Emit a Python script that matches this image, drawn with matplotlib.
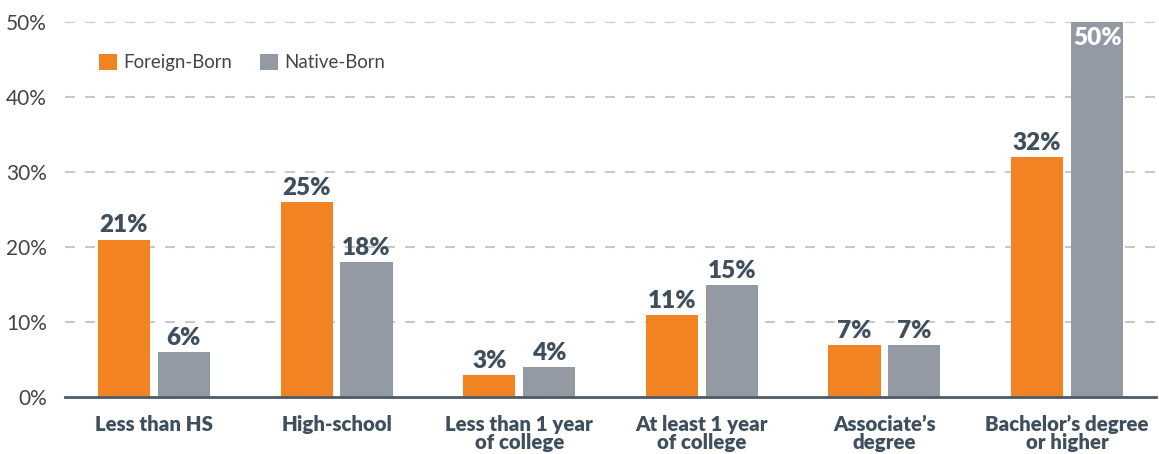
import matplotlib
matplotlib.use('Agg')
import matplotlib.pyplot as plt
import numpy as np

# Data
categories = ['Less than HS', 'High-school', 'Less than 1 year\nof college',
              'At least 1 year\nof college', 'Associate\u2019s\ndegree',
              'Bachelor\u2019s degree\nor higher']
foreign_born = [21, 26, 3, 11, 7, 32]
native_born = [6, 18, 4, 15, 7, 50]
foreign_labels = ['21%', '25%', '3%', '11%', '7%', '32%']
native_labels = ['6%', '18%', '4%', '15%', '7%', '50%']
y_ticks = [0, 10, 20, 30, 40, 50]

orange = '#f28322'
grey = '#939aa4'
dark = '#3f4f5e'

plt.rcParams['font.family'] = ['Lato', 'DejaVu Sans']

fig = plt.figure(figsize=(11.59, 4.54), dpi=100)
ax = fig.add_axes([65 / 1159, 1 - 397 / 454, (1156 - 65) / 1159, (397 - 22) / 454])

x = np.arange(len(categories))
w = 0.285
off = 0.164
ax.bar(x - off, foreign_born, w, color=orange, label='Foreign-Born', zorder=3)
ax.bar(x + off, native_born, w, color=grey, label='Native-Born', zorder=3)

# Value labels
for i in range(len(categories)):
    ax.annotate(foreign_labels[i], (x[i] - off, foreign_born[i]), xytext=(0, 3),
                textcoords='offset pixels', ha='center', va='bottom',
                fontsize=17.5, fontweight='heavy', color=dark, zorder=4)
    if native_born[i] >= 45:
        ax.annotate(native_labels[i], (x[i] + off, native_born[i]), xytext=(0, -5),
                    textcoords='offset pixels', ha='center', va='top',
                    fontsize=17.5, fontweight='heavy', color='white', zorder=4)
    else:
        ax.annotate(native_labels[i], (x[i] + off, native_born[i]), xytext=(0, 3),
                    textcoords='offset pixels', ha='center', va='bottom',
                    fontsize=17.5, fontweight='heavy', color=dark, zorder=4)

ax.set_xlim(-0.487, 5.487)
ax.set_ylim(0, 50)
ax.set_yticks(y_ticks)
ax.set_yticklabels([f'{t}%' for t in y_ticks], fontsize=15, color='#444444')
for t in y_ticks[1:]:
    ax.axhline(t, color='#c8c8cc', lw=1.5, dashes=(4.8, 4.8), zorder=1)
ax.axhline(0, color='#4d5b68', lw=2, zorder=4, clip_on=False)

ax.set_xticks(x)
ax.set_xticklabels(categories, fontsize=14.7, fontweight='heavy', color=dark, linespacing=0.95)
ax.tick_params(axis='both', length=0)
ax.tick_params(axis='x', pad=13)
ax.tick_params(axis='y', pad=13)
for s in ax.spines.values():
    s.set_visible(False)

ax.legend(loc='upper left', bbox_to_anchor=(0.031, 0.915), ncol=2, frameon=False,
          fontsize=13.4, handlelength=0.97, handleheight=0.97, handletextpad=0.35,
          columnspacing=1.5, labelcolor='#444444', borderpad=0, borderaxespad=0)

fig.savefig('out.png', dpi=100)
